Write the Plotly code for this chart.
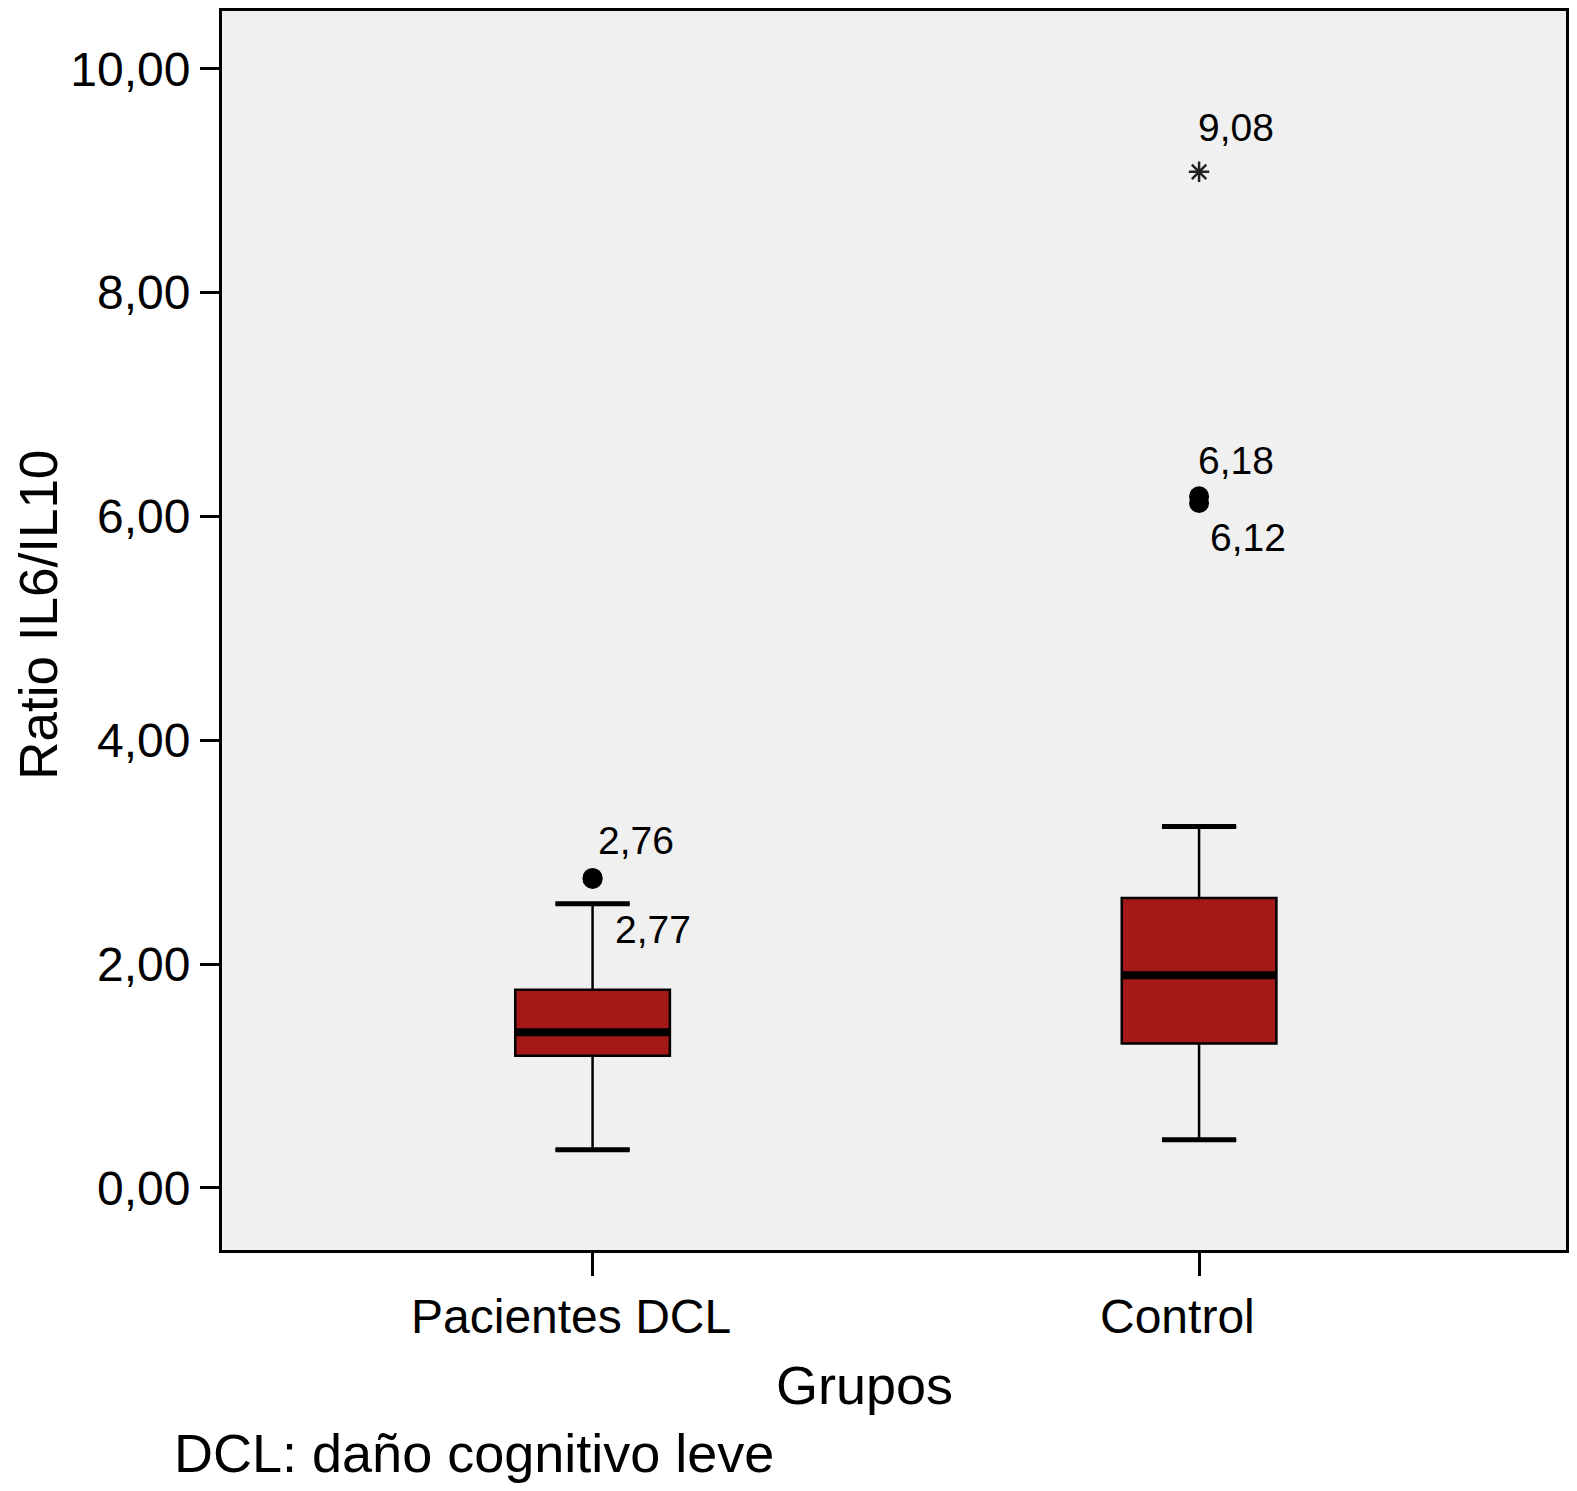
import plotly.graph_objects as go

# datos (ratio IL6/IL10)
grupos = ["Pacientes DCL", "Control"]
q1 = [1.18, 1.29]
mediana = [1.39, 1.90]
q3 = [1.77, 2.59]
bigote_inf = [0.34, 0.43]
bigote_sup = [2.54, 3.23]

# valores atípicos (círculos) y extremos (asterisco)
atip_grupo = [0, 0, 1, 1]
atip_valor = [2.76, 2.77, 6.18, 6.12]
atip_etiqueta = ["2,76", "2,77", "6,18", "6,12"]
extremo_grupo = [1]
extremo_valor = [9.08]
extremo_etiqueta = ["9,08"]

ROJO = "#a51818"
FONDO = "#f0f0f0"
FUENTE = "Liberation Sans, Arial, sans-serif"
ancho = 0.255
ancho_bigote = 0.48
pos = list(range(len(grupos)))

fig = go.Figure()

fig.add_trace(go.Box(
    x=pos, q1=q1, median=mediana, q3=q3,
    lowerfence=bigote_inf, upperfence=bigote_sup,
    width=ancho, whiskerwidth=ancho_bigote,
    fillcolor=ROJO, line=dict(color="black", width=2.5),
    boxpoints=False, showlegend=False, hoverinfo="skip",
))

# mediana gruesa y remates de los bigotes
for i, m, lo, hi in zip(pos, mediana, bigote_inf, bigote_sup):
    fig.add_trace(go.Scatter(
        x=[i - ancho / 2, i + ancho / 2], y=[m, m], mode="lines",
        line=dict(color="black", width=8), showlegend=False, hoverinfo="skip",
    ))
    for v in (lo, hi):
        half = ancho * ancho_bigote / 2
        fig.add_trace(go.Scatter(
            x=[i - half, i + half], y=[v, v], mode="lines",
            line=dict(color="black", width=5), showlegend=False, hoverinfo="skip",
        ))

fig.add_trace(go.Scatter(
    x=atip_grupo, y=atip_valor, mode="markers",
    marker=dict(symbol="circle", size=20, color="black"),
    showlegend=False, hoverinfo="skip",
))
fig.add_trace(go.Scatter(
    x=extremo_grupo, y=extremo_valor, mode="markers",
    marker=dict(symbol="asterisk", size=17, line=dict(color="#222222", width=2.5)),
    showlegend=False, hoverinfo="skip",
))

# etiquetas de los atípicos
desplaz = [(3, 39), (20, -52), (-3, 36), (9, -34)]
for g, v, t, (dx, dy) in zip(atip_grupo, atip_valor, atip_etiqueta, desplaz):
    fig.add_annotation(x=g, y=v, text=t, showarrow=False, xanchor="left", yanchor="middle",
                       xshift=dx, yshift=dy, font=dict(size=39, color="black", family=FUENTE))
for g, v, t in zip(extremo_grupo, extremo_valor, extremo_etiqueta):
    fig.add_annotation(x=g, y=v, text=t, showarrow=False, xanchor="left", yanchor="middle",
                       xshift=-3, yshift=44, font=dict(size=39, color="black", family=FUENTE))

# etiquetas de las categorías
for i, g in zip(pos, grupos):
    fig.add_annotation(x=i, y=0, yref="paper", text=g, showarrow=False,
                       yanchor="top", xshift=-22, yshift=-38,
                       font=dict(size=48, color="black", family=FUENTE))

fig.add_annotation(x=(865 - 222) / 1345, y=(1250 - 1385) / 1242, xref="paper", yref="paper",
                   text="Grupos", showarrow=False, xanchor="center", yanchor="middle",
                   font=dict(size=54, color="black", family=FUENTE))
fig.add_annotation(x=(38 - 222) / 1345, y=(1250 - 613) / 1242, xref="paper", yref="paper",
                   text="Ratio IL6/IL10", textangle=-90, showarrow=False,
                   xanchor="center", yanchor="middle", borderpad=0,
                   font=dict(size=53, color="black", family=FUENTE))
fig.add_annotation(x=(172 - 222) / 1345, y=(1250 - 1453) / 1242, xref="paper", yref="paper",
                   xanchor="left", yanchor="middle",
                   text="DCL: daño cognitivo leve", showarrow=False,
                   font=dict(size=54, color="black", family=FUENTE))

fig.update_layout(
    width=1561, height=1475,
    margin=dict(l=214, r=2, t=0, b=233),
    paper_bgcolor="white", plot_bgcolor=FONDO,
    separators=", ",
    font=dict(family=FUENTE, color="black"),
)
fig.update_xaxes(
    range=[-0.611, 1.605], tickvals=pos, showticklabels=False,
    ticks="outside", ticklen=23, tickwidth=3, tickcolor="black",
    showline=True, linecolor="black", linewidth=3, mirror=True,
    showgrid=False, zeroline=False,
)
fig.update_yaxes(
    range=[-0.555, 10.517], tickvals=[0, 2, 4, 6, 8, 10], tickformat=".2f",
    ticks="outside", ticklen=19, tickwidth=3, tickcolor="black",
    tickfont=dict(size=48, color="black", family=FUENTE),
    showline=True, linecolor="black", linewidth=3, mirror=True,
    showgrid=False, zeroline=False,
)

fig.write_html("out.html")
